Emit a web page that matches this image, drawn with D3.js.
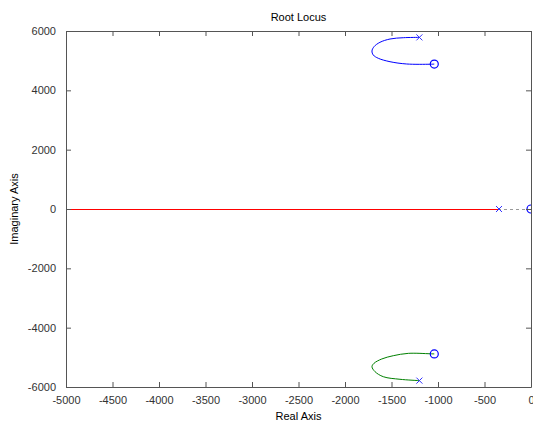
<!DOCTYPE html>
<html>
<head>
<meta charset="utf-8">
<script src="https://cdn.jsdelivr.net/npm/d3@7"></script>
<style>
  body { margin: 0; background: #fff; }
  text { font-family: "Liberation Sans", Arial, sans-serif; }
</style>
</head>
<body>
<div id="chart"></div>
<script>
// tick values
var xTicks = [-5000, -4500, -4000, -3500, -3000, -2500, -2000, -1500, -1000, -500, 0];
var yTicks = [-6000, -4000, -2000, 0, 2000, 4000, 6000];

// open-loop poles and zeros [real, imag]
var poles = [[-1200, 5785], [-1200, -5785], [-344, 0]];
var zeros = [[-1040, 4885], [-1040, -4885], [0, 0]];

// root locus branches
var branchUpper = [[-1200, 5785], [-1373, 5774], [-1516, 5730], [-1624, 5619], [-1688, 5471],
    [-1710, 5326], [-1696, 5191], [-1642, 5080], [-1516, 4965], [-1337, 4888], [-1086, 4880], [-1040, 4885]];
var branchLower = [[-1200, -5785], [-1409, -5740], [-1588, -5653], [-1677, -5484], [-1710, -5316],
    [-1688, -5201], [-1605, -5056], [-1481, -4945], [-1319, -4866], [-1086, -4880], [-1040, -4885]];
var branchReal = [[-344, 0], [-5000, 0]];
var zeroLine = [[-5000, 0], [0, 0]];

var margin = { top: 31, right: 2, bottom: 41, left: 66 },
    width = 533 - margin.left - margin.right,
    height = 428 - margin.top - margin.bottom;

var svg = d3.select("#chart").append("svg")
    .attr("width", 533)
    .attr("height", 428);

var g = svg.append("g")
    .attr("transform", "translate(" + margin.left + "," + margin.top + ")");

var x = d3.scaleLinear().domain([-5000, 0]).range([0, width]);
var y = d3.scaleLinear().domain([-6000, 6000]).range([height, 0]);

g.append("clipPath").attr("id", "clip")
    .append("rect").attr("x", -1).attr("y", -1).attr("width", width + 1).attr("height", height + 2);

var plot = g.append("g").attr("clip-path", "url(#clip)");

var line = d3.line()
    .x(function (d) { return x(d[0]); })
    .y(function (d) { return y(d[1]) + 0.5; });
var curve = d3.line()
    .curve(d3.curveCatmullRom)
    .x(function (d) { return x(d[0]); })
    .y(function (d) { return y(d[1]); });

// s-plane axis (dotted)
plot.append("path")
    .datum(zeroLine)
    .attr("fill", "none")
    .attr("stroke", "#999")
    .attr("stroke-width", 1)
    .attr("stroke-dasharray", "3,3")
    .attr("d", line);

// branches
plot.append("path").datum(branchReal)
    .attr("fill", "none").attr("stroke", "#ff0000").attr("stroke-width", 1)
    .attr("d", line);
plot.append("path").datum(branchUpper)
    .attr("fill", "none").attr("stroke", "#0000ff").attr("stroke-width", 1)
    .attr("d", curve);
plot.append("path").datum(branchLower)
    .attr("fill", "none").attr("stroke", "#008000").attr("stroke-width", 1)
    .attr("d", curve);

// poles: x markers
plot.selectAll(".pole").data(poles).enter().append("path")
    .attr("class", "pole")
    .attr("fill", "none")
    .attr("stroke", "#3333ff")
    .attr("stroke-width", 1)
    .attr("d", function (d) {
        var cx = x(d[0]), cy = y(d[1]), s = 3;
        return "M" + (cx - s) + "," + (cy - s) + "L" + (cx + s) + "," + (cy + s) +
            "M" + (cx - s) + "," + (cy + s) + "L" + (cx + s) + "," + (cy - s);
    });

// zeros: o markers
plot.selectAll(".zero").data(zeros).enter().append("circle")
    .attr("class", "zero")
    .attr("fill", "none")
    .attr("stroke", "#0000ff")
    .attr("stroke-width", 1.2)
    .attr("r", 4)
    .attr("cx", function (d) { return x(d[0]); })
    .attr("cy", function (d) { return y(d[1]); });

// axes, matlab style (ticks inside, box)
var axisColor = "#555";
function styleAxis(sel) {
    sel.selectAll("path").attr("stroke", axisColor);
    sel.selectAll("line").attr("stroke", axisColor);
    sel.selectAll("text").attr("fill", "#333").style("font-size", "11px");
}
var fmt = function (d) { return String(d); };

g.append("g")
    .attr("transform", "translate(0," + height + ")")
    .call(d3.axisBottom(x).tickValues(xTicks).tickFormat(fmt).tickSizeInner(-5).tickSizeOuter(0).tickPadding(9))
    .call(styleAxis);
g.append("g")
    .call(d3.axisTop(x).tickValues(xTicks).tickFormat("").tickSizeInner(-5).tickSizeOuter(0))
    .call(styleAxis);
g.append("g")
    .call(d3.axisLeft(y).tickValues(yTicks).tickFormat(fmt).tickSizeInner(-5).tickSizeOuter(0).tickPadding(10))
    .call(styleAxis);
g.append("g")
    .attr("transform", "translate(" + width + ",0)")
    .call(d3.axisRight(y).tickValues(yTicks).tickFormat("").tickSizeInner(-5).tickSizeOuter(0))
    .call(styleAxis);

// title and labels
svg.append("text")
    .attr("x", margin.left + width / 2)
    .attr("y", 21)
    .attr("text-anchor", "middle")
    .style("font-size", "11px")
    .text("Root Locus");

svg.append("text")
    .attr("x", margin.left + width / 2)
    .attr("y", 420)
    .attr("text-anchor", "middle")
    .style("font-size", "11px")
    .text("Real Axis");

svg.append("text")
    .attr("transform", "translate(18," + (margin.top + height / 2) + ") rotate(-90)")
    .attr("text-anchor", "middle")
    .style("font-size", "11px")
    .text("Imaginary Axis");
</script>
</body>
</html>
